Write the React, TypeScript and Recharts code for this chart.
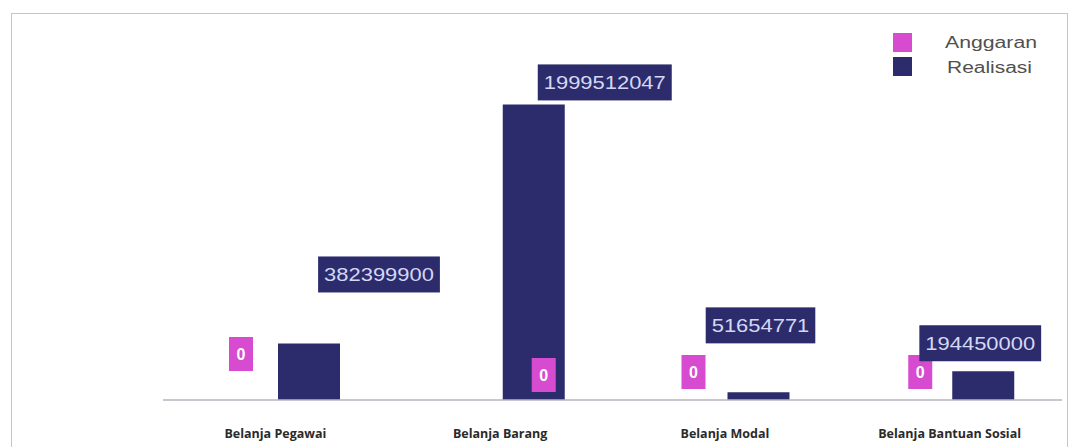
import React from "react";
import { BarChart, Bar, XAxis, YAxis, LabelList } from "recharts";

const categories = ["Belanja Pegawai", "Belanja Barang", "Belanja Modal", "Belanja Bantuan Sosial"];
const anggaran = [0, 0, 0, 0];
const realisasi = [382399900, 1999512047, 51654771, 194450000];

// where the labels were dragged to in the original (px, relative to the bar)
const anggaranNudge = [[0, -46], [78, -25], [3, -28], [5, -28]];
const realisasiNudge = [[70, -69], [71, -22], [2, -67], [-3, -28]];

const PINK = "#d64bcf";
const NAVY = "#2c2c6c";
const BAR = 62;
const GAP = 6;

const data = categories.map((name, i) => ({
  name,
  anggaran: anggaran[i],
  realisasi: realisasi[i],
}));

// zero-height bars get no label from recharts, so the Anggaran labels are
// hung off the neighbouring Realisasi bar (one bar + gap to the left, at the baseline)
const PinkLabel = (props: any) => {
  const { x, y, width, height, value, index } = props;
  const [dx, dy] = anggaranNudge[index];
  const cx = x + width / 2 - (BAR + GAP) + dx;
  const cy = y + height + dy;
  return (
    <g>
      <rect x={cx - 12} y={cy - 17} width={24} height={34} fill={PINK} />
      <text x={cx} y={cy + 6} textAnchor="middle" fill="#fff" fontSize={16} fontWeight="bold" fontFamily="Liberation Sans">
        {value}
      </text>
    </g>
  );
};

const NavyLabel = (props: any) => {
  const { x, y, width, value, index } = props;
  const [dx, dy] = realisasiNudge[index];
  const cx = x + width / 2 + dx;
  const cy = y + dy;
  const s = String(value);
  const tw = s.length * 12.2;
  const bw = tw + 12;
  return (
    <g>
      <rect x={cx - bw / 2} y={cy - 18} width={bw} height={36} fill={NAVY} />
      <text
        x={cx - tw / 2}
        y={cy + 7}
        fill="#d4d8f4"
        fontSize={19}
        fontFamily="Liberation Sans"
        textLength={tw}
        lengthAdjust="spacingAndGlyphs"
      >
        {s}
      </text>
    </g>
  );
};

const CatTick = (props: any) => {
  const { x, y, payload } = props;
  return (
    <text x={x} y={y + 30} textAnchor="middle" fill="#2a2a2a" fontSize={12.5} fontWeight="bold" fontFamily="Open Sans">
      {payload.value}
    </text>
  );
};

const LegendBox = () => (
  <svg width={170} height={60} style={{ position: "absolute", left: 892, top: 32 }}>
    <rect x={1} y={1} width={19} height={19} fill={PINK} />
    <rect x={1} y={25} width={19} height={19} fill={NAVY} />
    <text x={53} y={16} fill="#505050" fontSize={16} fontFamily="Liberation Sans" textLength={92} lengthAdjust="spacingAndGlyphs">
      Anggaran
    </text>
    <text x={55} y={41} fill="#505050" fontSize={16} fontFamily="Liberation Sans" textLength={85} lengthAdjust="spacingAndGlyphs">
      Realisasi
    </text>
  </svg>
);

export default function App() {
  return (
    <div style={{ position: "absolute", left: 0, top: 0, width: 1076, height: 447, background: "#fff" }}>
      <div
        style={{
          position: "absolute",
          left: 11,
          top: 13,
          width: 1057,
          height: 440,
          border: "1.5px solid #c4c4d2",
          boxSizing: "border-box",
        }}
      />
      <BarChart width={1076} height={447} data={data} margin={{ top: 60, right: 14, bottom: 0, left: 163 }} barSize={BAR} barGap={GAP}>
        <XAxis dataKey="name" axisLine={{ stroke: "#b5b5bd", strokeWidth: 1.5 }} tickLine={false} tick={<CatTick />} height={47} interval={0} />
        <YAxis hide domain={[0, 2300000000]} width={0} />
        <Bar dataKey="anggaran" name="Anggaran" fill={PINK} isAnimationActive={false} />
        <Bar dataKey="realisasi" name="Realisasi" fill={NAVY} isAnimationActive={false}>
          <LabelList dataKey="anggaran" content={<PinkLabel />} />
          <LabelList dataKey="realisasi" content={<NavyLabel />} />
        </Bar>
      </BarChart>
      <LegendBox />
    </div>
  );
}
